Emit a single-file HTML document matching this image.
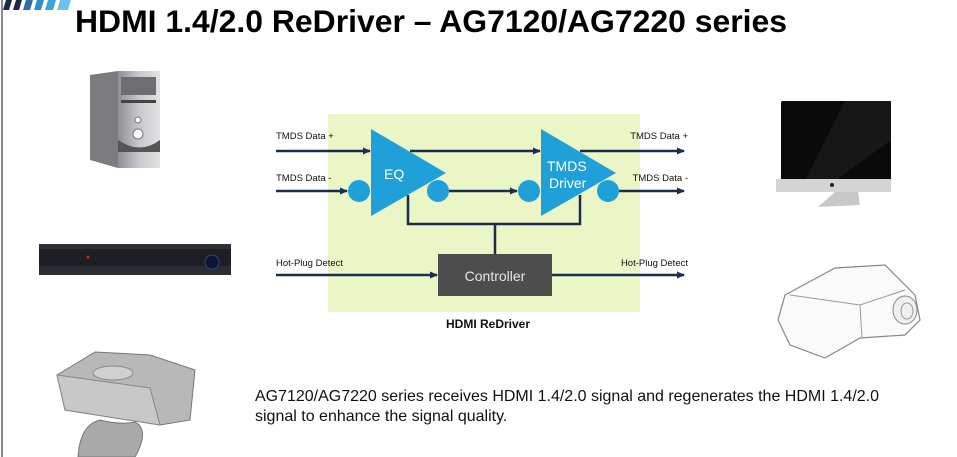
<!DOCTYPE html>
<html><head><meta charset="utf-8"><style>
html,body{margin:0;padding:0;background:#fff;}
body{width:957px;height:457px;overflow:hidden;position:relative;font-family:"Liberation Sans",sans-serif;}
</style></head><body>
<svg width="957" height="457" viewBox="0 0 957 457" xmlns="http://www.w3.org/2000/svg" style="position:absolute;left:0;top:0">
<defs>
<marker id="a" markerWidth="8" markerHeight="8" refX="7" refY="4" orient="auto" markerUnits="userSpaceOnUse"><path d="M0,0.5 L8,4 L0,7.5 z" fill="#1f2a4e"/></marker>
<linearGradient id="pc" x1="0" x2="1"><stop offset="0" stop-color="#8e8e93"/><stop offset="0.5" stop-color="#c9c9cd"/><stop offset="1" stop-color="#e2e2e4"/></linearGradient>
</defs>
<line x1="2" y1="0" x2="2" y2="457" stroke="#666" stroke-width="1.5"/>
<g>
<polygon points="6,0 12,0 9,10 3,10" fill="#1c2a4a"/>
<polygon points="16,0 22,0 19,10 13,10" fill="#1c2a4a"/>
<polygon points="26,0 33,0 30,10 23,10" fill="#2a6fa8"/>
<polygon points="37,0 44,0 41,10 34,10" fill="#2a8fcf"/>
<polygon points="48,0 56,0 53,10 45,10" fill="#3aa5dc"/>
<polygon points="60,0 71,0 68,10 57,10" fill="#6cc2ea"/>
</g>
<text x="75" y="32" font-size="31.5" font-weight="bold" fill="#000" textLength="712" lengthAdjust="spacingAndGlyphs">HDMI 1.4/2.0 ReDriver – AG7120/AG7220 series</text>

<rect x="328" y="114" width="312" height="198" fill="#eaf6c6"/>
<g stroke="#1f2a4e" stroke-width="2.5" fill="none">
<line x1="276" y1="151" x2="370" y2="151" marker-end="url(#a)"/>
<line x1="410" y1="151" x2="540" y2="151" marker-end="url(#a)"/>
<line x1="580" y1="151" x2="684" y2="151" marker-end="url(#a)"/>
<line x1="276" y1="191" x2="347" y2="191" marker-end="url(#a)"/>
<line x1="449" y1="191" x2="517" y2="191" marker-end="url(#a)"/>
<line x1="619" y1="191" x2="684" y2="191" marker-end="url(#a)"/>
<polyline points="408,195 408,224 580,224 580,195"/>
<line x1="495" y1="224" x2="495" y2="254"/>
<line x1="276" y1="275" x2="437" y2="275" marker-end="url(#a)"/>
<line x1="552" y1="275" x2="684" y2="275" marker-end="url(#a)"/>
</g>
<g fill="#1fa0d8">
<polygon points="371,129 446,173 371,216"/>
<polygon points="541,129 616,173 541,216"/>
<circle cx="359" cy="191" r="11"/>
<circle cx="438" cy="191" r="11"/>
<circle cx="529" cy="191" r="11"/>
<circle cx="608" cy="191" r="11"/>
</g>
<text x="384" y="179" font-size="14" fill="#fff">EQ</text>
<text x="547" y="171" font-size="14" fill="#fff">TMDS</text>
<text x="549" y="188" font-size="14" fill="#fff">Driver</text>
<rect x="438" y="254" width="114" height="42" fill="#4d4d4d"/>
<text x="495" y="281" font-size="14" fill="#e6e6e6" text-anchor="middle">Controller</text>
<g font-size="9.5" fill="#111">
<text x="276" y="139">TMDS Data +</text>
<text x="276" y="181">TMDS Data -</text>
<text x="276" y="266">Hot-Plug Detect</text>
<text x="688" y="139" text-anchor="end">TMDS Data +</text>
<text x="688" y="181" text-anchor="end">TMDS Data -</text>
<text x="688" y="266" text-anchor="end">Hot-Plug Detect</text>
</g>
<text x="488" y="328" font-size="12" font-weight="bold" fill="#111" text-anchor="middle">HDMI ReDriver</text>

<polygon points="90,75 118,71 158,71 158,168 118,168 90,160" fill="#7b7b80"/>
<rect x="118" y="71" width="42" height="97" fill="url(#pc)"/>
<rect x="121" y="77" width="35" height="18" fill="#6e6e72"/>
<rect x="121" y="100" width="35" height="3" fill="#444"/>
<circle cx="138" cy="120" r="3" fill="#fff" stroke="#777"/>
<circle cx="138" cy="134" r="5" fill="#fff" stroke="#777"/>
<path d="M118,140 Q140,155 160,140 L160,152 L118,152 z" fill="#555"/>
<rect x="39" y="244" width="192" height="31" fill="#1d1f24"/>
<rect x="39" y="244" width="192" height="5" fill="#2e3036"/>
<rect x="39" y="266" width="192" height="9" fill="#2b2d33"/>
<circle cx="212" cy="262" r="7" fill="#0f1530" stroke="#2a4a8a"/>
<circle cx="88" cy="257" r="1.5" fill="#d22"/>
<polygon points="57,375 95,352 150,355 195,370 190,420 160,425 65,410" fill="#b8b8b8" stroke="#777"/>
<polygon points="57,375 150,388 160,425 65,410" fill="#c8c8c8" stroke="#888"/>
<ellipse cx="113" cy="373" rx="20" ry="7" fill="#d0d0d0" stroke="#888"/>
<path d="M78,457 Q80,425 100,420 Q120,425 135,422 Q150,430 135,457 z" fill="#a9a9a9" stroke="#777"/>
<rect x="781" y="101" width="110" height="80" rx="2" fill="#0a0a0a"/>
<polygon points="845,101 891,101 891,140 835,181 805,181" fill="#1c1c1e" opacity="0.7"/>
<rect x="776" y="179" width="115" height="13" fill="#d4d4d6"/>
<circle cx="832" cy="185" r="2" fill="#222"/>
<polygon points="835,192 858,192 860,205 818,207" fill="#c8c8ca"/>
<path d="M785,295 L835,268 L885,265 L915,295 L920,320 L905,335 L860,338 L825,358 L790,345 L778,320 z" fill="#fafafa" stroke="#888" stroke-width="1.2"/>
<path d="M790,295 L860,305 L905,290" fill="none" stroke="#999"/>
<path d="M860,305 L862,338" stroke="#999"/>
<ellipse cx="905" cy="310" rx="12" ry="14" fill="#f0f0f0" stroke="#888"/>
<ellipse cx="907" cy="311" rx="6" ry="8" fill="none" stroke="#999"/>
<text x="255" y="401" font-size="16" fill="#111" textLength="624" lengthAdjust="spacingAndGlyphs">AG7120/AG7220 series receives HDMI 1.4/2.0 signal and regenerates the HDMI 1.4/2.0</text>
<text x="255" y="421" font-size="16" fill="#111">signal to enhance the signal quality.</text>
</svg>
</body></html>
